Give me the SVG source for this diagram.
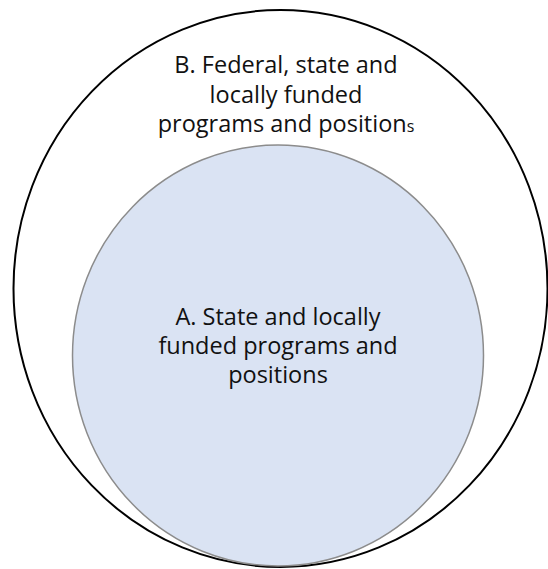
<svg xmlns="http://www.w3.org/2000/svg" width="548" height="569" viewBox="0 0 548 569">
  <style>
    .label { font-family: "Open Sans", "Liberation Sans", sans-serif; font-size: 23.5px; fill: #111111; text-anchor: middle; }
    .outer { fill: #ffffff; stroke: #000000; stroke-width: 2; }
    .inner { fill: #dae3f3; stroke: #8c8c8c; stroke-width: 1.5; }
  </style>
  <rect width="548" height="569" fill="#ffffff"/>
  <g id="node-b">
    <ellipse class="outer" cx="280.5" cy="288.5" rx="267" ry="278.5"/>
    <text class="label" x="286" y="73">B. Federal, state and</text>
    <text class="label" x="286" y="102.5">locally funded</text>
    <text class="label" x="286" y="132">programs and position<tspan font-size="16">s</tspan></text>
  </g>
  <g id="node-a">
    <ellipse class="inner" cx="278" cy="355.5" rx="205.5" ry="210.5"/>
    <text class="label" x="278" y="325">A. State and locally</text>
    <text class="label" x="278" y="354">funded programs and</text>
    <text class="label" x="278" y="383">positions</text>
  </g>
  <g id="connectors"/>
</svg>
